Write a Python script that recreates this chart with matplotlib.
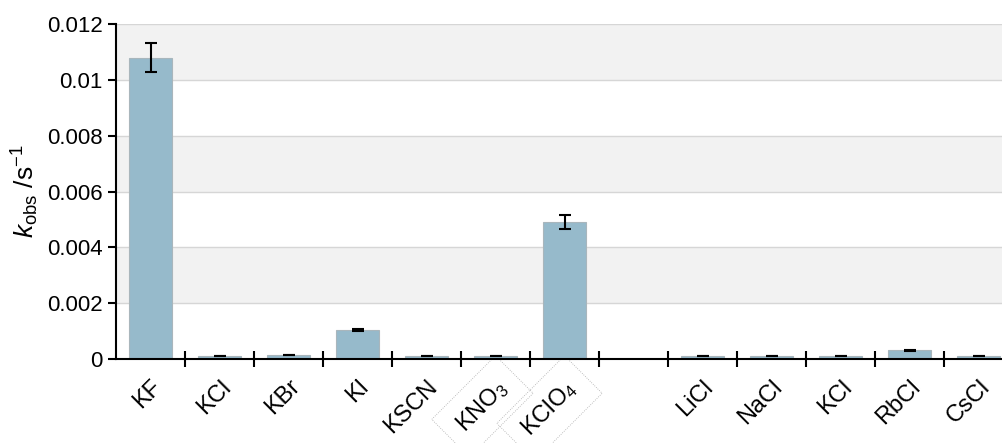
import numpy as np
import matplotlib.pyplot as plt

plt.rcParams["font.family"] = ["Liberation Sans", "DejaVu Sans"]
plt.rcParams["mathtext.fontset"] = "custom"
plt.rcParams["mathtext.rm"] = "Liberation Sans"
plt.rcParams["mathtext.it"] = "Liberation Sans:italic"

# salts (blank slot separates the anion series from the cation series)
salts = ["KF", "KCl", "KBr", "KI", "KSCN", "KNO$_3$", "KClO$_4$", "",
         "LiCl", "NaCl", "KCl", "RbCl", "CsCl"]
k_obs = [0.0108, 0.0001, 0.00015, 0.00104, 0.0001, 0.0001, 0.00491, np.nan,
         0.0001, 0.0001, 0.0001, 0.00032, 0.0001]
k_err = [0.00053, 0.00001, 0.00001, 0.00004, 0.00001, 0.00001, 0.00025, np.nan,
         0.00001, 0.00001, 0.00001, 0.00002, 0.00001]
boxed = ["KNO$_3$", "KClO$_4$"]

fig = plt.figure(figsize=(10.02, 4.43), dpi=100)
ax = fig.add_axes([116 / 1002, 84 / 443, 897 / 1002, 335 / 443])

x = np.arange(len(salts))

# alternating shaded bands + grid lines
yticks = np.arange(0, 0.0121, 0.002)
for i in range(len(yticks) - 1):
    if i % 2 == 1:
        ax.axhspan(yticks[i], yticks[i + 1], color="#F2F2F2", zorder=0, lw=0)
for yt in yticks[1:]:
    ax.axhline(yt, color="#D6D6D6", lw=1, zorder=0.5)

ax.bar(x, k_obs, width=0.61, color="#96BACB", edgecolor="#A9B6BC", linewidth=0.8, zorder=2)
ax.errorbar(x, k_obs, yerr=k_err, fmt="none", ecolor="black", elinewidth=1.5,
            capsize=4, capthick=1.5, zorder=3)

ax.set_xlim(-0.5, len(salts) - 0.5)
ax.set_ylim(0, 0.012)
ax.set_yticks(yticks)
ax.set_yticklabels(["0", "0.002", "0.004", "0.006", "0.008", "0.01", "0.012"], fontsize=16)
ax.set_ylabel(r"$k_{\mathrm{obs}}$ /s$^{-1}$", fontsize=19, labelpad=4)

ax.set_xticks(x)
ax.set_xticklabels(salts, rotation=45, ha="right", rotation_mode="anchor", fontsize=17)
ax.tick_params(axis="x", which="major", length=0, pad=12)
ax.set_xticks(np.arange(0.5, len(salts) - 0.5, 1), minor=True)
ax.tick_params(axis="x", which="minor", direction="inout", length=11, width=1.5)
ax.tick_params(axis="y", direction="out", length=6, width=1.5)

for lbl in ax.get_xticklabels():
    if lbl.get_text() in boxed:
        lbl.set_bbox(dict(boxstyle="square,pad=0.6", fc="none", ec="#AAAAAA",
                          lw=0.6, ls=":"))

for side in ["top", "right"]:
    ax.spines[side].set_visible(False)
ax.spines["left"].set_linewidth(1.5)
ax.spines["bottom"].set_linewidth(1.5)

plt.savefig("out.png", dpi=100)
